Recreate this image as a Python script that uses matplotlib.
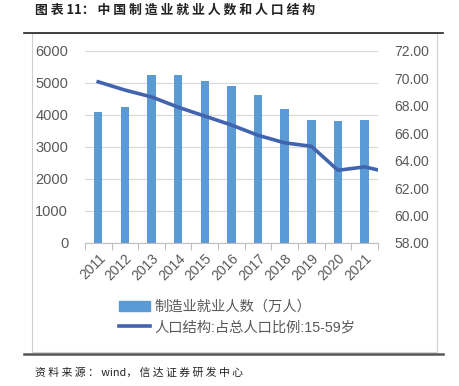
import matplotlib
matplotlib.use('Agg')
import matplotlib.pyplot as plt
from matplotlib.lines import Line2D

plt.rcParams['font.family'] = ['Liberation Sans', 'Noto Sans CJK SC', 'DejaVu Sans']

years = ['2011', '2012', '2013', '2014', '2015', '2016', '2017', '2018', '2019', '2020', '2021']
employ = [4088, 4262, 5258, 5243, 5069, 4894, 4635, 4178, 3832, 3806, 3828]
# 人口结构：15-59岁占比（最后一个点在图外，只露出一小段）
ratio = [69.75, 69.15, 68.65, 67.9, 67.25, 66.6, 65.85, 65.3, 65.05, 63.3, 63.55, 63.1]

bar_c = '#5B9BD5'
line_c = '#4263AE'
txt_c = '#595959'

fig = plt.figure(figsize=(4.59, 3.86), dpi=100)
ax = fig.add_axes([0.185, 0.3705, 0.6385, 0.4975])

x = range(len(years))
ax.bar(x, employ, width=0.32, color=bar_c, zorder=2)
ax.set_xlim(-0.5, len(years) - 0.5)
ax.set_ylim(0, 6000)
ax.set_yticks(range(0, 6001, 1000))
ax.set_xticks([i + 0.5 for i in range(-1, len(years))], minor=True)
ax.set_xticks(list(x))
ax.set_xticklabels(years, rotation=45, ha='right', va='top', rotation_mode='anchor',
                   fontsize=10, color=txt_c)
ax.tick_params(axis='x', which='major', length=0, pad=6)
ax.tick_params(axis='x', which='minor', length=5, color='#bfbfbf', width=0.8)
ax.tick_params(axis='y', length=0, labelsize=10.5, labelcolor=txt_c, pad=12)
ax.grid(axis='y', color='#d9d9d9', linewidth=0.9, zorder=0)
for s in ['top', 'right', 'left']:
    ax.spines[s].set_visible(False)
ax.spines['bottom'].set_color('#bfbfbf')
ax.spines['bottom'].set_linewidth(0.8)

ax2 = ax.twinx()
ax2.plot(range(len(ratio)), ratio, color=line_c, linewidth=2.6, zorder=3, clip_on=True)
ax2.set_xlim(-0.5, len(years) - 0.5)
ax2.set_ylim(58, 72)
ax2.set_yticks(range(58, 73, 2))
ax2.set_yticklabels(['%.2f' % v for v in range(58, 73, 2)])
ax2.tick_params(axis='y', length=0, labelsize=10, labelcolor=txt_c, pad=12)
for s in ax2.spines.values():
    s.set_visible(False)

handles = [plt.Rectangle((0, 0), 1, 1, color=bar_c),
           Line2D([0], [0], color=line_c, linewidth=2.6)]
labels = ['制造业就业人数（万人）', '人口结构:占总人口比例:15-59岁']
fig.legend(handles, labels, loc='center', bbox_to_anchor=(0.516, 0.179), frameon=False,
           labelcolor=txt_c, handlelength=2.2, handletextpad=0.3,
           labelspacing=0.45, prop={'family': ['Liberation Sans', 'Noto Sans CJK SC'], 'size': 10.3})

# 外框和上下横线
fig.add_artist(plt.Rectangle((32 / 459, 1 - 352 / 386), 405 / 459, 319 / 386,
                             transform=fig.transFigure, fill=False, edgecolor='#d0d0d0', linewidth=0.8))
fig.add_artist(Line2D([24 / 459, 443 / 459], [1 - 33 / 386] * 2, color='#222222', linewidth=1.2))
fig.add_artist(Line2D([24 / 459, 443 / 459], [1 - 354 / 386] * 2, color='#555555', linewidth=1.8))

fig.text(35 / 459, 1 - 10 / 386, ' '.join('图表') + ' 11： ' + ' '.join('中国制造业就业人数和人口结构'),
         fontsize=9.3, fontweight='bold', color='#222222', va='center', ha='left',
         family=['Noto Sans CJK SC', 'DejaVu Sans'])
fig.text(35 / 459, 1 - 373 / 386, ' '.join('资料来源：') + ' wind， ' + ' '.join('信达证券研发中心'),
         fontsize=7.8, style='italic', color='#222222', va='center', ha='left',
         family=['Noto Sans CJK SC', 'DejaVu Sans'])

fig.savefig('out.png', dpi=100)
